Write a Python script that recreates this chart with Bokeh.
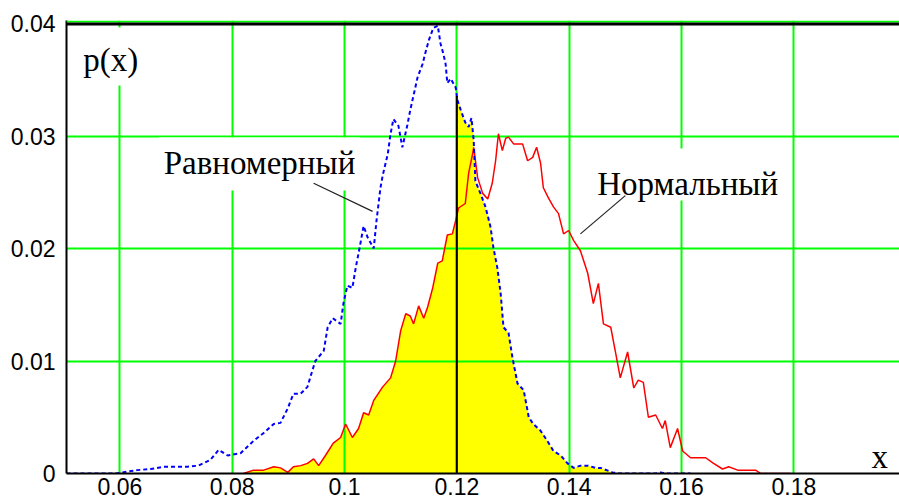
import numpy as np
from bokeh.plotting import figure
from bokeh.models import Range1d, FixedTicker, NumeralTickFormatter, Span, Label
from bokeh.embed import file_html
from bokeh.resources import INLINE

# ---- data ----
uniform_x = [0.0505, 0.0521, 0.0592, 0.0631, 0.0655, 0.0678, 0.0696, 0.0720, 0.0740, 0.0761,
             0.0776, 0.0792, 0.0815, 0.0838, 0.0856, 0.0874, 0.0886, 0.0899, 0.0909, 0.0922,
             0.0934, 0.0943, 0.0948, 0.0963, 0.0970, 0.0979, 0.0993, 0.0998, 0.1005, 0.1014,
             0.1020, 0.1027, 0.1034, 0.1041, 0.1052, 0.1057, 0.1064, 0.1068, 0.1077, 0.1082,
             0.1087, 0.1096, 0.1103, 0.1112, 0.1117, 0.1130, 0.1139, 0.1144, 0.1150, 0.1158,
             0.1166, 0.1171, 0.1176, 0.1180, 0.1183, 0.1189, 0.1198, 0.1201, 0.1207, 0.1215,
             0.1221, 0.1226, 0.1230, 0.1233, 0.1242, 0.1251, 0.1260, 0.1265, 0.1272, 0.1278,
             0.1283, 0.1292, 0.1299, 0.1308, 0.1319, 0.1328, 0.1336, 0.1349, 0.1361, 0.1372,
             0.1385, 0.1397, 0.1408, 0.1420, 0.1433, 0.1447, 0.1456, 0.1477, 0.1491, 0.1554,
             0.1563, 0.1571, 0.1616]
uniform_p = [0.0000, 0.0000, 0.0000, 0.0003, 0.0004, 0.0006, 0.0006, 0.0006, 0.0007, 0.0012,
             0.0021, 0.0016, 0.0018, 0.0029, 0.0036, 0.0044, 0.0045, 0.0058, 0.0071, 0.0071,
             0.0077, 0.0092, 0.0100, 0.0109, 0.0130, 0.0138, 0.0133, 0.0151, 0.0167, 0.0165,
             0.0183, 0.0201, 0.0220, 0.0210, 0.0200, 0.0225, 0.0254, 0.0265, 0.0284, 0.0302,
             0.0315, 0.0309, 0.0290, 0.0310, 0.0323, 0.0352, 0.0364, 0.0374, 0.0385, 0.0396,
             0.0398, 0.0382, 0.0373, 0.0364, 0.0347, 0.0351, 0.0343, 0.0332, 0.0323, 0.0312,
             0.0308, 0.0316, 0.0296, 0.0260, 0.0249, 0.0237, 0.0219, 0.0201, 0.0183, 0.0160,
             0.0130, 0.0125, 0.0103, 0.0080, 0.0074, 0.0050, 0.0044, 0.0038, 0.0029, 0.0020,
             0.0016, 0.0009, 0.0005, 0.0007, 0.0007, 0.0005, 0.0005, 0.0001, 0.0000, 0.0000,
             0.0001, 0.0000, 0.0000]

normal_x = [0.0820, 0.0838, 0.0856, 0.0874, 0.0886, 0.0899, 0.0909, 0.0922, 0.0934, 0.0945,
            0.0954, 0.0966, 0.0980, 0.0993, 0.1002, 0.1014, 0.1025, 0.1034, 0.1043, 0.1052,
            0.1068, 0.1082, 0.1091, 0.1100, 0.1109, 0.1117, 0.1123, 0.1132, 0.1141, 0.1148,
            0.1157, 0.1166, 0.1174, 0.1183, 0.1192, 0.1198, 0.1203, 0.1215, 0.1221, 0.1228,
            0.1230, 0.1237, 0.1246, 0.1255, 0.1263, 0.1269, 0.1274, 0.1281, 0.1287, 0.1292,
            0.1301, 0.1317, 0.1326, 0.1335, 0.1342, 0.1349, 0.1354, 0.1363, 0.1372, 0.1381,
            0.1390, 0.1399, 0.1408, 0.1420, 0.1433, 0.1443, 0.1452, 0.1461, 0.1474, 0.1482,
            0.1491, 0.1504, 0.1515, 0.1523, 0.1532, 0.1541, 0.1554, 0.1566, 0.1571, 0.1580,
            0.1593, 0.1602, 0.1616, 0.1643, 0.1657, 0.1673, 0.1684, 0.1700, 0.1732, 0.1741,
            0.1794]
normal_p = [0.0000, 0.0003, 0.0003, 0.0006, 0.0005, 0.0001, 0.0006, 0.0007, 0.0009, 0.0013,
            0.0007, 0.0016, 0.0027, 0.0032, 0.0044, 0.0032, 0.0040, 0.0054, 0.0052, 0.0065,
            0.0077, 0.0085, 0.0100, 0.0127, 0.0142, 0.0140, 0.0133, 0.0149, 0.0138, 0.0148,
            0.0165, 0.0187, 0.0189, 0.0212, 0.0213, 0.0225, 0.0236, 0.0240, 0.0267, 0.0284,
            0.0290, 0.0263, 0.0249, 0.0244, 0.0258, 0.0278, 0.0302, 0.0287, 0.0298, 0.0299,
            0.0293, 0.0293, 0.0278, 0.0281, 0.0290, 0.0276, 0.0254, 0.0245, 0.0237, 0.0231,
            0.0213, 0.0216, 0.0207, 0.0198, 0.0178, 0.0151, 0.0169, 0.0133, 0.0130, 0.0109,
            0.0085, 0.0108, 0.0076, 0.0083, 0.0081, 0.0050, 0.0052, 0.0040, 0.0047, 0.0023,
            0.0040, 0.0020, 0.0014, 0.0014, 0.0009, 0.0004, 0.0006, 0.0003, 0.0003, 0.0000,
            0.0000]

threshold = 0.12
x_ticks = [0.06, 0.08, 0.10, 0.12, 0.14, 0.16, 0.18]
y_ticks = [0.0, 0.01, 0.02, 0.03, 0.04]
label_uniform = "Равномерный"
label_normal = "Нормальный"
label_y = "p(x)"
label_x = "x"

# ---- figure ----
PX_Y = 11250.0
p = figure(width=899, height=503, output_backend="svg", toolbar_location=None,
           x_range=Range1d(0.0505, 0.19881), y_range=Range1d(0, 0.04 + 3 / PX_Y),
           min_border_left=66, min_border_right=0, min_border_top=20, min_border_bottom=30)
p.outline_line_color = None
p.background_fill_color = "white"
p.border_fill_color = "white"

# grids
p.xgrid.ticker = FixedTicker(ticks=x_ticks + [0.20])
p.ygrid.ticker = FixedTicker(ticks=[0.01, 0.02, 0.03])
for g in (p.xgrid, p.ygrid):
    g.grid_line_color = "#00FF00"
    g.grid_line_width = 2

# axes
for ax in (p.xaxis, p.yaxis):
    ax.axis_line_color = "black"
    ax.axis_line_width = 2
    ax.major_tick_line_color = None
    ax.minor_tick_line_color = None
    ax.major_tick_out = 0
    ax.major_tick_in = 0
    ax.minor_tick_out = 0
    ax.minor_tick_in = 0
    ax.formatter = NumeralTickFormatter(format="0.[00]")
    ax.major_label_text_font = "Liberation Sans"
    ax.major_label_text_font_size = "23px"
    ax.major_label_text_color = "black"
p.xaxis.ticker = FixedTicker(ticks=x_ticks)
p.yaxis.ticker = FixedTicker(ticks=y_ticks)
p.xaxis.major_label_standoff = 4
p.yaxis.major_label_standoff = 11

# top border lines
p.add_layout(Span(location=0.04 + 2 / PX_Y, dimension="width", line_color="#00FF00", line_width=2))
p.add_layout(Span(location=0.04 - 0.5 / PX_Y, dimension="width", line_color="black", line_width=3))

# yellow fill: under normal curve left of threshold, under uniform curve right of it
ux = np.array(uniform_x); uy = np.array(uniform_p)
nx = np.array(normal_x); ny = np.array(normal_p)
n_thr = float(np.interp(threshold, nx, ny))
u_thr = float(np.interp(threshold, ux, uy))
left = nx < threshold
right = ux > threshold
fill_x = [nx[0]] + list(nx[left]) + [threshold, threshold] + list(ux[right]) + [ux[-1]]
fill_y = [0.0] + list(ny[left]) + [n_thr, u_thr] + list(uy[right]) + [0.0]
p.patch(fill_x, fill_y, fill_color="#FFFF00", line_color=None, level="image")

# curves
p.line(nx, ny, line_color="#FF0000", line_width=1.5)
p.line(ux, uy, line_color="#0000FF", line_width=2, line_dash="4 3")
p.segment(x0=[threshold], y0=[0], x1=[threshold], y1=[u_thr], line_color="black", line_width=2)

# white boxes behind the labels (they interrupt the grid lines)
p.quad(left=[0.0521, 0.0669, 0.1438], right=[0.0655, 0.1028, 0.1780],
       top=[0.03964, 0.02987, 0.02889], bottom=[0.03449, 0.02516, 0.02427],
       fill_color="white", line_color=None, level="guide")

# leader lines
p.line([0.0945, 0.1050], [0.0258, 0.0233], line_color="#222222", line_width=1.2, level="overlay")
p.line([0.1420, 0.1500], [0.0213, 0.0247], line_color="#222222", line_width=1.2, level="overlay")

def add_label(x, y, text):
    p.add_layout(Label(x=x, y=y, text=text, text_font="Liberation Serif", text_font_size="33px",
                       text_color="black", text_align="left", text_baseline="alphabetic"))

add_label(0.0535, 0.0368, label_y)
add_label(0.0678, 0.02756, label_uniform)
add_label(0.1450, 0.02569, label_normal)
add_label(0.19382, 0.00151, label_x)

open("out.html", "w").write(file_html(p, INLINE))
